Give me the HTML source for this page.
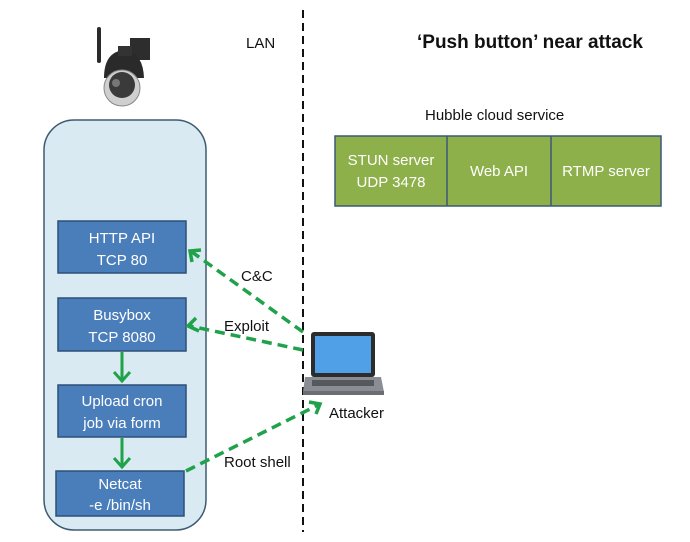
<!DOCTYPE html>
<html><head><meta charset="utf-8"><style>
html,body{margin:0;padding:0;background:#fff;}
svg{display:block;font-family:"Liberation Sans","DejaVu Sans",sans-serif;}
</style></head><body>
<svg width="690" height="542" viewBox="0 0 690 542" xmlns="http://www.w3.org/2000/svg">
<!-- camera -->
<rect x="97" y="27" width="4" height="36" rx="2" fill="#2a2a2a"/>
<rect x="130" y="38" width="20" height="22" fill="#2d2d2d"/>
<path d="M104,78 Q104,52 124,50 Q143,52 144,78 Z" fill="#2a2a2a"/>
<rect x="118" y="46" width="14" height="10" fill="#333"/>
<circle cx="122" cy="88" r="18" fill="#cfcfcf" stroke="#888" stroke-width="1"/>
<circle cx="122" cy="85" r="13" fill="#3a3a3a"/>
<circle cx="116" cy="83" r="4" fill="#777"/>
<!-- device container -->
<rect x="44" y="120" width="162" height="410" rx="30" fill="#daeaf2" stroke="#3e5a72" stroke-width="1.5"/>
<!-- LAN line -->
<line x1="303" y1="10" x2="303" y2="532" stroke="#111" stroke-width="2" stroke-dasharray="8,5"/>
<text x="246" y="48" font-size="15" fill="#111">LAN</text>
<text x="417" y="48" font-size="19" font-weight="bold" fill="#111">‘Push button’ near attack</text>
<text x="425" y="120" font-size="15" fill="#111">Hubble cloud service</text>
<!-- green boxes -->
<rect x="335" y="136" width="326" height="70" fill="#8db04a" stroke="#3c5878" stroke-width="1.5"/>
<line x1="447" y1="136" x2="447" y2="206" stroke="#3c5878" stroke-width="1.5"/>
<line x1="551" y1="136" x2="551" y2="206" stroke="#3c5878" stroke-width="1.5"/>
<g fill="#fff" font-size="15" text-anchor="middle">
<text x="391" y="165">STUN server</text>
<text x="391" y="187">UDP 3478</text>
<text x="499" y="176">Web API</text>
<text x="606" y="176">RTMP server</text>
</g>
<!-- blue boxes -->
<g fill="#4a7ebb" stroke="#2c4f78" stroke-width="1.5">
<rect x="58" y="221" width="128" height="52"/>
<rect x="58" y="298" width="128" height="53"/>
<rect x="58" y="385" width="128" height="52"/>
<rect x="56" y="471" width="128" height="45"/>
</g>
<g fill="#fff" font-size="15" text-anchor="middle">
<text x="122" y="243">HTTP API</text>
<text x="122" y="265">TCP 80</text>
<text x="122" y="320">Busybox</text>
<text x="122" y="342">TCP 8080</text>
<text x="122" y="406">Upload cron</text>
<text x="122" y="428">job via form</text>
<text x="120" y="489">Netcat</text>
<text x="120" y="510">-e /bin/sh</text>
</g>
<!-- solid arrows -->
<g stroke="#1fa24a" stroke-width="3" fill="none">
<line x1="122" y1="352" x2="122" y2="380"/>
<path d="M114,372 L122,381 L130,372"/>
<line x1="122" y1="438" x2="122" y2="466"/>
<path d="M114,458 L122,467 L130,458"/>
</g>
<!-- dashed arrows -->
<g stroke="#1fa24a" stroke-width="3.5" fill="none" stroke-dasharray="10,6">
<line x1="303" y1="332" x2="192" y2="252"/>
<line x1="303" y1="350" x2="190" y2="326"/>
<line x1="186" y1="471" x2="318" y2="405"/>
</g>
<g stroke="#1fa24a" stroke-width="3.5" fill="none">
<path d="M192,262 L190,251 L201,250"/>
<path d="M196,318 L188,326 L199,331"/>
<path d="M309,402 L320,404 L316,414"/>
</g>
<g font-size="15" fill="#111">
<text x="241" y="281">C&amp;C</text>
<text x="224" y="331">Exploit</text>
<text x="224" y="467">Root shell</text>
<text x="329" y="418">Attacker</text>
</g>
<!-- laptop -->
<rect x="311" y="332" width="64" height="45" rx="3" fill="#2c2c2c"/>
<rect x="315" y="336" width="56" height="37" fill="#4fa0e6"/>
<path d="M305,377 L381,377 L384,392 L303,392 Z" fill="#8a8e94"/>
<rect x="303" y="391" width="81" height="4" fill="#6a6d72"/>
<rect x="312" y="380" width="62" height="6" fill="#55585d"/>
</svg>
</body></html>
